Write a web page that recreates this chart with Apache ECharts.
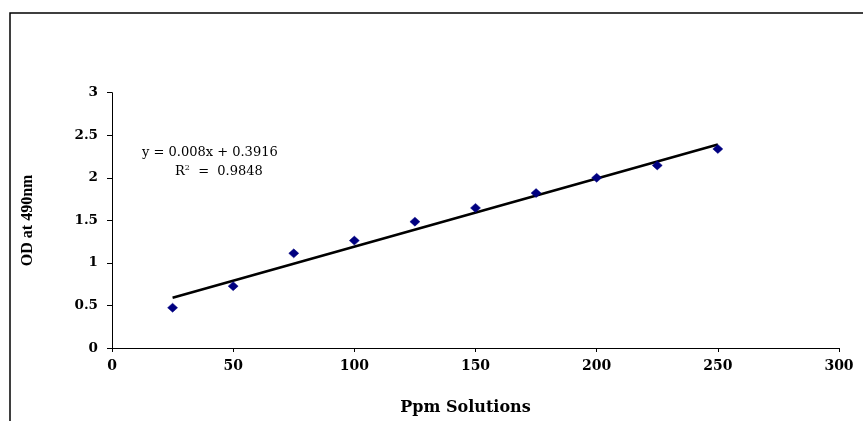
<!DOCTYPE html>
<html>
<head>
<meta charset="utf-8">
<script src="https://cdn.jsdelivr.net/npm/echarts@6/dist/echarts.min.js"></script>
<style>
  html, body { margin: 0; padding: 0; background: #fff; overflow: hidden; }
  #chart { width: 863px; height: 421px; }
</style>
</head>
<body>
<div id="chart"></div>
<script>
// Calibration standards: concentration (ppm) vs optical density at 490 nm
const ppm = [25, 50, 75, 100, 125, 150, 175, 200, 225, 250];
const od = [0.473, 0.727, 1.112, 1.262, 1.485, 1.646, 1.82, 2.0, 2.146, 2.339];

// Linear trendline as reported on the chart
const slope = 0.008;
const intercept = 0.3916;
const rSquared = 0.9848;
const trendX = [25, 250];

const xTicks = [0, 50, 100, 150, 200, 250, 300];
const yTicks = [0, 0.5, 1, 1.5, 2, 2.5, 3];

const wideSerif = '"DejaVu Serif", serif';
const timesSerif = '"Liberation Serif", "Times New Roman", serif';

const chart = echarts.init(document.getElementById('chart'), null, { renderer: 'canvas' });

chart.setOption({
  animation: false,
  backgroundColor: '#ffffff',
  grid: { left: 112, right: 24, top: 92.7, bottom: 68.3, containLabel: false },
  xAxis: {
    type: 'value',
    min: xTicks[0],
    max: xTicks[xTicks.length - 1],
    interval: 50,
    name: 'Ppm Solutions',
    nameLocation: 'middle',
    nameGap: 52,
    nameTextStyle: { fontFamily: wideSerif, fontWeight: 'bold', fontSize: 16, color: '#000', padding: [0, 20, 0, 0] },
    axisLine: { show: true, onZero: false, lineStyle: { color: '#000', width: 1 } },
    axisTick: { show: true, inside: false, length: 4, lineStyle: { color: '#000' } },
    axisLabel: { fontFamily: wideSerif, fontWeight: 'bold', fontSize: 14, color: '#000', margin: 11 },
    splitLine: { show: false }
  },
  yAxis: {
    type: 'value',
    min: yTicks[0],
    max: yTicks[yTicks.length - 1],
    interval: 0.5,
    name: 'OD at 490nm',
    nameLocation: 'middle',
    nameGap: 76,
    nameTextStyle: { fontFamily: timesSerif, fontWeight: 'bold', fontSize: 16, color: '#000' },
    axisLine: { show: true, onZero: false, lineStyle: { color: '#000', width: 1 } },
    axisTick: { show: true, inside: false, length: 5, lineStyle: { color: '#000' } },
    axisLabel: { fontFamily: wideSerif, fontWeight: 'bold', fontSize: 13.5, color: '#000', margin: 14 },
    splitLine: { show: false }
  },
  graphic: [
    {
      type: 'rect',
      silent: true,
      z: -1,
      shape: { x: 10, y: 13, width: 1000, height: 600 },
      style: { fill: 'none', stroke: '#000', lineWidth: 1.5 }
    },
    {
      type: 'text',
      left: 142,
      top: 146,
      style: {
        text: 'y = 0.008x + 0.3916',
        fontFamily: wideSerif, fontSize: 13, fill: '#000'
      }
    },
    {
      type: 'text',
      left: 175,
      top: 164,
      style: {
        text: '{b|R}{s|2}{b|  =  ' + rSquared.toFixed(4) + '}',
        rich: {
          b: { fontFamily: wideSerif, fontSize: 13, fill: '#000', lineHeight: 16 },
          s: { fontFamily: wideSerif, fontSize: 8, fill: '#000', verticalAlign: 'top', padding: [0, 0, 7, 0] }
        }
      }
    }
  ],
  series: [
    {
      name: 'Trendline',
      type: 'line',
      data: trendX.map(x => [x, slope * x + intercept]),
      symbol: 'none',
      lineStyle: { color: '#000', width: 2.6 },
      z: 2
    },
    {
      name: 'OD',
      type: 'scatter',
      data: ppm.map((x, i) => [x, od[i]]),
      symbol: 'diamond',
      symbolSize: [10, 9],
      itemStyle: { color: '#000080', opacity: 1, borderColor: '#000080', borderWidth: 0.5 },
      z: 3
    }
  ]
});
</script>
</body>
</html>
